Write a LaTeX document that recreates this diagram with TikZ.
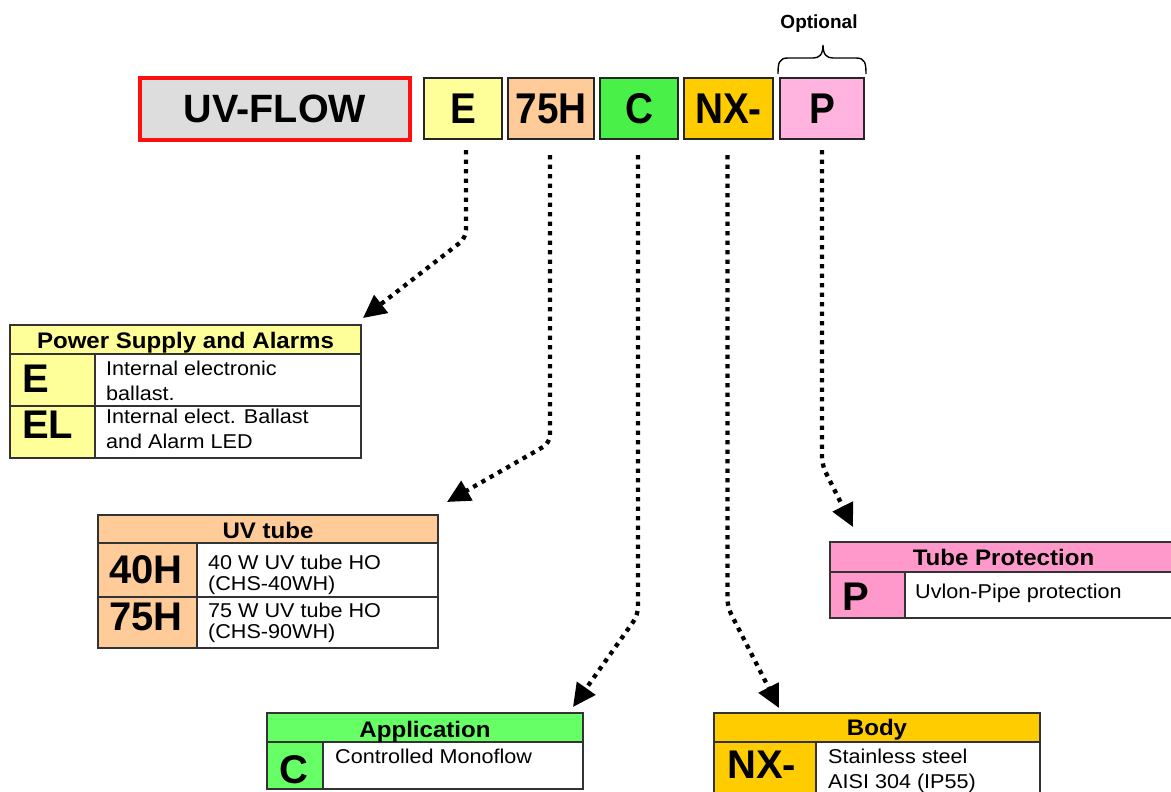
\documentclass[tikz,border=0pt]{standalone}
\usepackage{fontspec}
\setmainfont{Liberation Sans}
\newfontfamily\descfont[FakeStretch=1.08]{Liberation Sans}
\newfontfamily\hdrfont[FakeStretch=1.07]{Liberation Sans}
\newfontfamily\topfont[FakeStretch=0.9]{Liberation Sans}
\usetikzlibrary{arrows.meta,calc}
\definecolor{uvgrey}{HTML}{DDDDDD}
\definecolor{uvred}{HTML}{FF1010}
\definecolor{cyel}{HTML}{FFFF99}
\definecolor{cpeach}{HTML}{FFCC99}
\definecolor{cgreen}{HTML}{48F048}
\definecolor{cgreenl}{HTML}{66FF66}
\definecolor{corange}{HTML}{FFCC00}
\definecolor{cpink}{HTML}{FFB3DE}
\definecolor{cpinkd}{HTML}{FF99CC}
\definecolor{bordergrey}{HTML}{333333}
\tikzset{
  topbox/.style={draw=black!85, line width=1.6pt, inner sep=0pt, outer sep=0pt, anchor=north west,
    minimum height=61pt, font=\topfont\bfseries\fontsize{43}{43}\selectfont},
  cell/.style={draw=bordergrey, line width=1.2pt, inner sep=0pt, outer sep=0pt, anchor=north west},
  hdrtxt/.style={inner sep=0pt, anchor=base, font=\hdrfont\bfseries\fontsize{22.5}{22.5}\selectfont},
  codetxt/.style={inner sep=0pt, anchor=base west, font=\bfseries\fontsize{40}{40}\selectfont},
  desctxt/.style={inner sep=0pt, anchor=base west, font=\descfont\fontsize{20}{20}\selectfont},
  dotarrow/.style={line width=4.3pt, dash pattern=on 4.3pt off 5.2pt, rounded corners=8pt,
    -{Triangle[length=23pt,width=22pt]}},
}
\begin{document}
\begin{tikzpicture}[x=1pt,y=-1pt]
\useasboundingbox (0,0) rectangle (1171,792);
\fill[white] (0,0) rectangle (1171,792);
\clip (0,0) rectangle (1171,792);

% ---- top code ----
\node[draw=uvred, line width=3.6pt, fill=uvgrey, inner sep=0pt, outer sep=0pt, anchor=north west,
  minimum width=270pt, minimum height=62pt, font=\bfseries\fontsize{39.5}{39.5}\selectfont] (uvflow) at (140,78) {UV-FLOW};
\node[topbox, fill=cyel, minimum width=78pt] (topE) at (424,78) {E};
\node[topbox, fill=cpeach, minimum width=86pt] (top75) at (508,78) {75H};
\node[topbox, fill=cgreen, minimum width=78pt] (topC) at (600,78) {C};
\node[topbox, fill=corange, minimum width=89pt] (topNX) at (684,78) {NX-};
\node[topbox, fill=cpink, minimum width=84pt] (topP) at (780,78) {P};

\node[inner sep=0pt, anchor=base, font=\bfseries\fontsize{19}{19}\selectfont] (opt) at (819,29) {Optional};
\draw[line width=1.4pt] (778,74) .. controls (778,63) and (779,58) .. (788,58) -- (813,58)
  .. controls (819,58) and (823,55) .. (823,45) .. controls (823,55) and (827,58) .. (833,58)
  -- (856,58) .. controls (865,58) and (866,63) .. (866,74);

% ---- Table 1: Power Supply and Alarms ----
\node[cell, fill=cyel, minimum width=351pt, minimum height=29pt] (psh) at (10,325) {};
\node[cell, fill=cyel, minimum width=85pt, minimum height=52pt] (psc1) at (10,354) {};
\node[cell, fill=white, minimum width=266pt, minimum height=52pt] (psd1) at (95,354) {};
\node[cell, fill=cyel, minimum width=85pt, minimum height=52pt] (psc2) at (10,406) {};
\node[cell, fill=white, minimum width=266pt, minimum height=52pt] (psd2) at (95,406) {};
\node[hdrtxt] (pst) at (185.5,348) {Power Supply and Alarms};
\node[codetxt] (psE) at (22,392) {E};
\node[codetxt] (psEL) at (22,438) {EL};
\node[desctxt] (psd1a) at (106,375) {Internal electronic};
\node[desctxt] (psd1b) at (106,400) {ballast.};
\node[desctxt] (psd2a) at (106,423) {Internal elect. Ballast};
\node[desctxt] (psd2b) at (106,448) {and Alarm LED};

% ---- Table 2: UV tube ----
\node[cell, fill=cpeach, minimum width=340pt, minimum height=28pt] (uvh) at (98,515) {};
\node[cell, fill=cpeach, minimum width=99pt, minimum height=54pt] (uvc1) at (98,543) {};
\node[cell, fill=white, minimum width=241pt, minimum height=54pt] (uvd1) at (197,543) {};
\node[cell, fill=cpeach, minimum width=99pt, minimum height=51pt] (uvc2) at (98,597) {};
\node[cell, fill=white, minimum width=241pt, minimum height=51pt] (uvd2) at (197,597) {};
\node[hdrtxt] (uvt) at (268,538) {UV tube};
\node[codetxt] (uv40) at (109,583) {40H};
\node[codetxt] (uv75) at (109,630) {75H};
\node[desctxt] (uvd1a) at (208,569) {40 W UV tube HO};
\node[desctxt] (uvd1b) at (208,590) {(CHS-40WH)};
\node[desctxt] (uvd2a) at (208,617) {75 W UV tube HO};
\node[desctxt] (uvd2b) at (208,638) {(CHS-90WH)};

% ---- Table 3: Application ----
\node[cell, fill=cgreenl, minimum width=316pt, minimum height=29pt] (aph) at (267,713) {};
\node[cell, fill=cgreenl, minimum width=56pt, minimum height=47pt] (apc) at (267,742) {};
\node[cell, fill=white, minimum width=260pt, minimum height=47pt] (apd) at (323,742) {};
\node[hdrtxt] (apt) at (425,737) {Application};
\node[codetxt] (apC) at (279,783) {C};
\node[desctxt] (apda) at (335,763) {Controlled Monoflow};

% ---- Table 4: Body ----
\node[cell, fill=corange, minimum width=326pt, minimum height=29pt] (bdh) at (714,713) {};
\node[cell, fill=corange, minimum width=102pt, minimum height=60pt] (bdc) at (714,742) {};
\node[cell, fill=white, minimum width=224pt, minimum height=60pt] (bdd) at (816,742) {};
\node[hdrtxt] (bdt) at (877,735) {Body};
\node[codetxt] (bdNX) at (727,778) {NX-};
\node[desctxt] (bdda) at (828,763) {Stainless steel};
\node[desctxt] (bddb) at (828,788) {AISI 304 (IP55)};

% ---- Table 5: Tube Protection ----
\node[cell, fill=cpinkd, minimum width=347pt, minimum height=30pt] (tph) at (830,542) {};
\node[cell, fill=cpinkd, minimum width=75pt, minimum height=46pt] (tpc) at (830,572) {};
\node[cell, fill=white, minimum width=272pt, minimum height=46pt] (tpd) at (905,572) {};
\node[hdrtxt] (tpt) at (1003.5,565) {Tube Protection};
\node[codetxt] (tpP) at (842,610) {P};
\node[desctxt] (tpda) at (915,598) {Uvlon-Pipe protection};

% ---- connectors ----
\draw[dotarrow] ($(topE.south)+(3,11)$) -- ($(topE.south)+(3,99)$) -- ($(psh.north east)+(2,-7)$);
\draw[dotarrow] ($(top75.south)+(-1,16)$) -- ($(top75.south)+(-1,304)$) -- ($(uvh.north east)+(9,-13)$);
\draw[dotarrow] ($(topC.south)+(-1,16)$) -- ($(topC.south)+(-1,476)$) -- ($(aph.north east)+(-10,-6)$);
\draw[dotarrow] ($(topNX.south)+(-1,16)$) -- ($(topNX.south)+(-1,468)$) -- ($(bdh.north west)+(65,-5)$);
\draw[dotarrow] ($(topP.south)+(0,11)$) -- ($(topP.south)+(0,326)$) -- ($(tph.north west)+(23,-15)$);
\end{tikzpicture}
\end{document}
